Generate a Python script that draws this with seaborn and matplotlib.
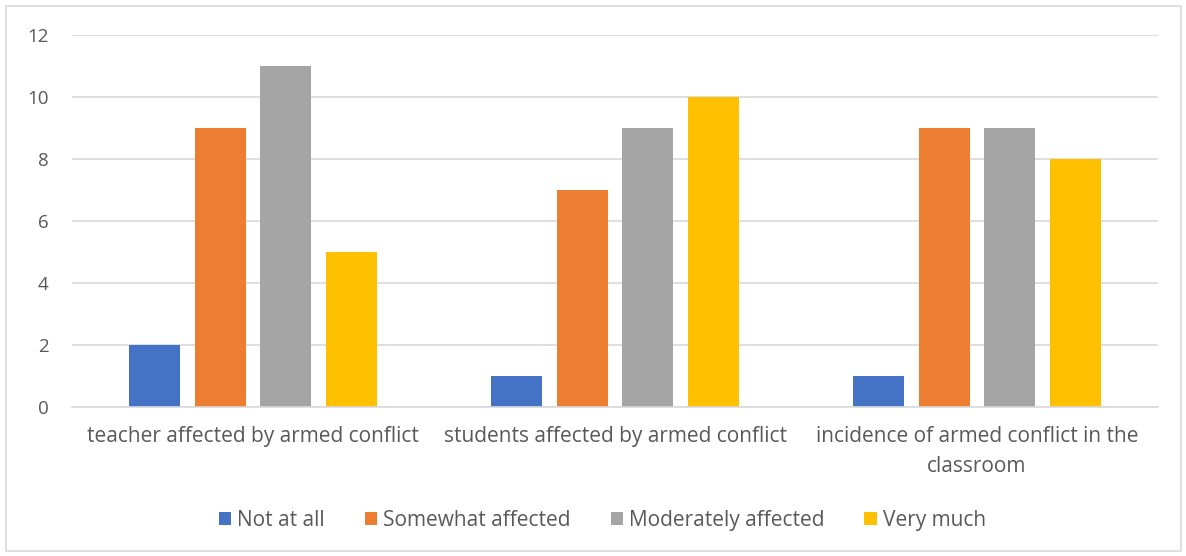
import matplotlib
matplotlib.use("Agg")
import matplotlib.pyplot as plt
from matplotlib.patches import Rectangle
import seaborn as sns
import pandas as pd

categories = [
    "teacher affected by armed conflict",
    "students affected by armed conflict",
    "incidence of armed conflict in the\nclassroom",
]
series = ["Not at all", "Somewhat affected", "Moderately affected", "Very much"]
not_at_all = [2, 1, 1]
somewhat = [9, 7, 9]
moderately = [11, 9, 9]
very_much = [5, 10, 8]
colors = ["#4472C4", "#ED7D31", "#A5A5A5", "#FFC000"]

rows = []
for name, vals in zip(series, [not_at_all, somewhat, moderately, very_much]):
    for cat, v in zip(categories, vals):
        rows.append({"category": cat, "series": name, "value": v})
df = pd.DataFrame(rows)

sns.set_theme(style="white")
plt.rcParams["font.family"] = ["Open Sans", "DejaVu Sans"]
text_color = "#595959"

fig = plt.figure(figsize=(11.86, 5.56), dpi=100)
ax = fig.add_axes([0.0607, 0.268, 0.9157, 0.669])

sns.barplot(data=df, x="category", y="value", hue="series", order=categories,
            hue_order=series, palette=colors, width=0.724, gap=0.22,
            saturation=1, linewidth=0, ax=ax, legend=True)

ax.set_ylim(0, 12)
ax.set_xlim(-0.5, 2.5)
ax.set_yticks(range(0, 13, 2))
ax.yaxis.grid(True, color="#D9D9D9", linewidth=1.2)
ax.set_axisbelow(True)
for s in ["top", "right", "left"]:
    ax.spines[s].set_visible(False)
ax.spines["bottom"].set_color("#D9D9D9")
ax.spines["bottom"].set_linewidth(1.2)
ax.tick_params(axis="y", length=0, pad=17, labelsize=13.5, labelcolor=text_color)
ax.tick_params(axis="x", length=0, pad=14, labelsize=15, labelcolor=text_color)
for lbl in ax.get_xticklabels():
    lbl.set_linespacing(1.55)
ax.set_xlabel("")
ax.set_ylabel("")

handles, labels = ax.get_legend_handles_labels()
ax.get_legend().remove()
fig.legend(handles, labels, loc="center", bbox_to_anchor=(0.508, 0.064), ncol=4,
           frameon=False, fontsize=15, labelcolor=text_color, handlelength=0.6,
           handleheight=0.6, handletextpad=0.3, columnspacing=1.9)

fig.patches.append(Rectangle((6 / 1186, 5 / 556), 1175 / 1186, 545 / 556,
                             transform=fig.transFigure, fill=False,
                             edgecolor="#D9D9D9", linewidth=1.2))

fig.savefig("out.png", dpi=100, facecolor="white")
